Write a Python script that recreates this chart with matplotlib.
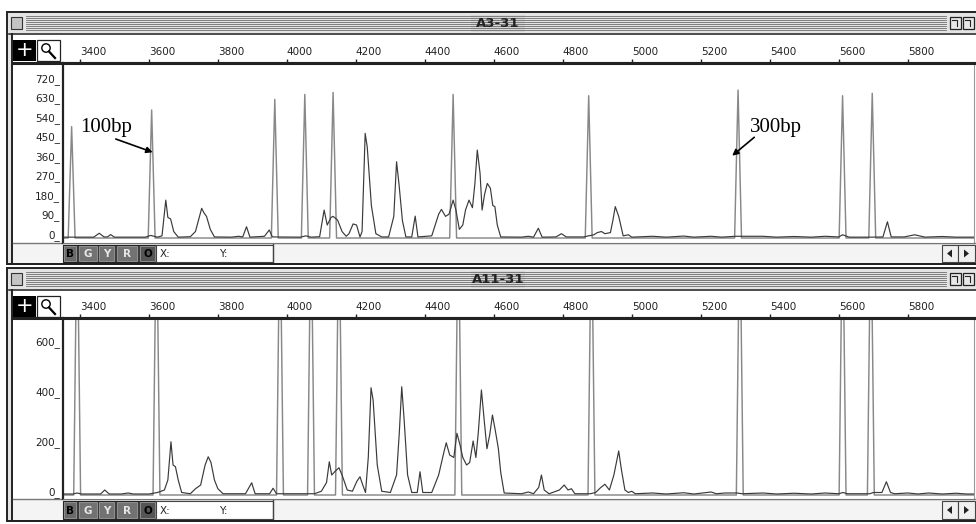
import matplotlib
matplotlib.use("Agg")
import matplotlib.pyplot as plt
from matplotlib.patches import Rectangle, Circle, Polygon

# ---- data ----
x_ticks = [3400, 3600, 3800, 4000, 4200, 4400, 4600, 4800, 5000, 5200, 5400, 5600, 5800]
top_yticks = [0, 90, 180, 270, 360, 450, 540, 630, 720]
bot_yticks = [0, 200, 400, 600]

# size-standard (ladder) peaks: position, height
top_ladder_pos = [3376, 3608, 3965, 4052, 4134, 4482, 4875, 5308, 5611, 5697]
top_ladder_h = [514, 591, 640, 663, 672, 663, 657, 683, 657, 668]
bot_ladder_pos = [3392, 3622, 3980, 4070, 4151, 4497, 4883, 5313, 5611, 5693]
bot_ladder_h = [1150, 1150, 1150, 1150, 1150, 1150, 1150, 1150, 1150, 1150]

# sample trace vertices (A3-31)
top_x = [3351, 3440, 3456, 3470, 3480, 3489, 3500, 3590, 3605, 3625, 3638, 3649, 3655, 3663,
         3672, 3685, 3720, 3735, 3753, 3760, 3767, 3778, 3790, 3840, 3860, 3872, 3883, 3893,
         3935, 3949, 3958, 4040, 4055, 4070, 4095, 4108, 4117, 4128, 4134, 4147, 4160, 4172,
         4180, 4192, 4202, 4212, 4218, 4227, 4233, 4245, 4258, 4275, 4295, 4310, 4318, 4325,
         4335, 4345, 4362, 4372, 4380, 4420, 4440, 4448, 4460, 4470, 4482, 4490, 4500, 4510,
         4518, 4528, 4538, 4545, 4552, 4560, 4566, 4573, 4581, 4590, 4597, 4603, 4610, 4620,
         4680, 4700, 4715, 4729, 4740, 4780, 4796, 4810, 4860, 4890, 4900, 4912, 4922, 4938,
         4945, 4952, 4962, 4975, 4990, 5000, 5060, 5100, 5150, 5180, 5230, 5260, 5300, 5380,
         5420, 5470, 5520, 5560, 5600, 5611, 5630, 5700, 5728, 5741, 5752, 5790, 5820, 5850,
         5900, 5940, 5992]
top_y = [4, 4, 22, 5, 5, 16, 4, 4, 12, 4, 10, 175, 95, 88,
         30, 4, 6, 30, 137, 115, 100, 40, 5, 4, 8, 5, 52, 4,
         8, 37, 5, 4, 10, 4, 6, 129, 60, 95, 100, 83, 30, 8,
         20, 65, 60, 5, 30, 483, 420, 150, 20, 5, 5, 100, 352, 250,
         80, 5, 5, 101, 5, 10, 110, 132, 100, 110, 175, 130, 40, 60,
         130, 175, 140, 250, 406, 300, 129, 200, 252, 230, 150, 145, 60, 5,
         4, 8, 4, 45, 4, 5, 20, 5, 5, 15, 25, 30, 20, 25,
         80, 145, 100, 10, 15, 4, 8, 4, 9, 4, 8, 4, 8, 8,
         4, 7, 4, 8, 5, 15, 4, 4, 5, 75, 5, 5, 15, 4,
         7, 4, 4]

# sample trace vertices (A11-31)
bot_x = [3351, 3380, 3392, 3405, 3460, 3472, 3485, 3520, 3540, 3555, 3600, 3625, 3645, 3655,
         3664, 3670, 3677, 3685, 3695, 3720, 3735, 3750, 3763, 3772, 3780, 3790, 3800, 3815,
         3880, 3898, 3908, 3950, 3960, 3970, 4060, 4080, 4100, 4115, 4123, 4130, 4140, 4151,
         4160, 4175, 4190, 4203, 4212, 4220, 4228, 4236, 4244, 4250, 4262, 4275, 4300, 4318,
         4326, 4333, 4340, 4350, 4362, 4378, 4386, 4394, 4420, 4440, 4455, 4462, 4472, 4484,
         4493, 4502, 4510, 4521, 4530, 4540, 4548, 4555, 4564, 4572, 4580, 4588, 4596, 4604,
         4613, 4620, 4630, 4680, 4700, 4715, 4730, 4738, 4746, 4760, 4790, 4804, 4815, 4825,
         4835, 4880, 4895, 4910, 4922, 4935, 4948, 4962, 4970, 4980, 4990, 5000, 5010, 5060,
         5100, 5150, 5180, 5230, 5245, 5270, 5305, 5320, 5380, 5420, 5470, 5520, 5560, 5600,
         5612, 5625, 5690, 5700, 5725, 5738, 5750, 5762, 5800, 5830, 5860, 5900, 5940, 5970,
         5992]
bot_y = [4, 4, 8, 4, 4, 20, 4, 4, 8, 4, 4, 10, 20, 60,
         213, 120, 113, 60, 10, 5, 25, 40, 120, 153, 130, 60, 25, 5,
         5, 49, 5, 5, 27, 5, 5, 5, 15, 50, 133, 80, 95, 109,
         80, 20, 15, 55, 73, 40, 10, 150, 429, 380, 120, 15, 10, 80,
         250, 433, 300, 80, 10, 10, 93, 10, 10, 80, 170, 209, 160, 150,
         247, 200, 150, 120, 130, 216, 150, 250, 420, 300, 185, 240, 320, 260,
         187, 90, 8, 5, 12, 5, 30, 80, 20, 5, 20, 40, 20, 25,
         5, 5, 10, 30, 43, 20, 80, 176, 100, 20, 10, 15, 5, 8,
         4, 9, 4, 12, 5, 8, 8, 5, 8, 4, 7, 4, 8, 5,
         10, 5, 5, 10, 10, 53, 10, 5, 8, 4, 8, 4, 7, 4,
         4]

W, H = 976, 524
fig = plt.figure(figsize=(9.76, 5.24), dpi=100)
bg = fig.add_axes([0, 0, 1, 1])
bg.set_xlim(0, W)
bg.set_ylim(H, 0)
bg.axis("off")


def ladder_trace(pos, h, x0, x1, hw=10):
    xs, ys = [x0], [0]
    for p, v in zip(pos, h):
        xs += [p - hw, p, p + hw]
        ys += [0, v, 0]
    xs.append(x1)
    ys.append(0)
    return xs, ys


def window(y_top, plot_top, plot_bot, y_bot, title):
    # frame
    bg.add_patch(Rectangle((7, y_top), 980, y_bot - y_top, fc="#e4e4e4", ec="#222", lw=1.4))
    # title bar with stripes
    for yy in range(y_top + 4, y_top + 20, 2):
        bg.plot([26, 946], [yy, yy], color="#6e6e6e", lw=0.6)
    bg.add_patch(Rectangle((471, y_top + 3), 54, 17, fc="#d6d6d6", ec="none"))
    bg.text(498, y_top + 11.5, title, ha="center", va="center", fontsize=9.5,
            fontweight="bold", color="#222")
    bg.add_patch(Rectangle((11, y_top + 5), 11, 12, fc="#c4c4c4", ec="#333", lw=0.8))
    for xx in (950, 963):
        bg.add_patch(Rectangle((xx, y_top + 5), 11, 12, fc="#e8e8e8", ec="#222", lw=0.9))
        bg.plot([xx + 2, xx + 7, xx + 7], [y_top + 8, y_top + 8, y_top + 14], color="#222", lw=0.8)
    bg.plot([9, 976], [y_top + 22, y_top + 22], color="#333", lw=1.2)
    # ruler + left column
    bg.add_patch(Rectangle((12, y_top + 23), 964, plot_bot - y_top - 23, fc="white", ec="none"))
    bg.plot([12, 12], [y_top + 22, y_bot], color="#222", lw=1.4)
    bg.add_patch(Rectangle((13, y_top + 28), 23, 21, fc="black", ec="none"))
    bg.text(24.5, y_top + 38.5, "+", ha="center", va="center", color="white", fontsize=15)
    bg.add_patch(Rectangle((37, y_top + 28), 23, 21, fc="white", ec="#222", lw=0.9))
    bg.add_patch(Circle((46, y_top + 36), 4.2, fc="none", ec="black", lw=1.0))
    bg.plot([49, 55], [y_top + 39.5, y_top + 46], color="black", lw=1.6)
    bg.plot([13, 976], [plot_top, plot_top], color="#222", lw=2.2)
    # toolbar
    tb = plot_bot + 1
    th = y_bot - tb - 1
    bg.add_patch(Rectangle((13, tb), 963, th, fc="#f4f4f4", ec="none"))
    bg.plot([13, 976], [plot_bot, plot_bot], color="#777", lw=1.0)
    bg.add_patch(Rectangle((63, tb + 1), 93, th - 2, fc="#3c3c3c", ec="#222", lw=0.8))
    buttons = [("B", 64, 12, "#6a6a6a", "black"), ("G", 79, 18, "#727272", "#e6e6e6"),
               ("Y", 99, 15, "#727272", "#e6e6e6"), ("R", 117, 20, "#727272", "#e6e6e6"),
               ("O", 140, 15, "#555555", "black")]
    for lab, bx, bw, fc, tc in buttons:
        bg.add_patch(Rectangle((bx, tb + 2), bw, th - 4, fc=fc, ec="#999", lw=0.6))
        bg.text(bx + bw / 2, tb + th / 2 + 0.5, lab, ha="center", va="center", fontsize=7.5,
                fontweight="bold", color=tc)
    bg.add_patch(Rectangle((156, tb + 1), 117, th - 2, fc="white", ec="#444", lw=0.8))
    bg.text(160, tb + th / 2 + 0.5, "X:", ha="left", va="center", fontsize=7.5, color="#222")
    bg.text(219, tb + th / 2 + 0.5, "Y:", ha="left", va="center", fontsize=7.5, color="#222")
    bg.plot([273, 273], [tb, tb + th], color="#444", lw=1.0)
    bg.add_patch(Rectangle((942, tb + 1), 16, th - 2, fc="#f0f0f0", ec="#444", lw=0.8))
    bg.add_patch(Rectangle((958, tb + 1), 17, th - 2, fc="#f0f0f0", ec="#444", lw=0.8))
    cy = tb + th / 2
    bg.add_patch(Polygon([[947, cy], [952, cy - 4], [952, cy + 4]], fc="#222", ec="none"))
    bg.add_patch(Polygon([[969, cy], [964, cy - 4], [964, cy + 4]], fc="#222", ec="none"))
    bg.plot([7, 976], [y_bot, y_bot], color="#222", lw=1.4)


def panel(plot_top, plot_bot, ylim, yticks, lad_pos, lad_h, sx, sy):
    ax = fig.add_axes([63 / W, 1 - plot_bot / H, (974 - 63) / W, (plot_bot - plot_top) / H])
    ax.set_facecolor("white")
    lx, ly = ladder_trace(lad_pos, lad_h, 3351, 5992)
    ax.plot(lx, ly, color="#888888", lw=1.05)
    ax.plot(sx, sy, color="#3a3a3a", lw=0.85)
    ax.set_xlim(3351, 5992)
    ax.set_ylim(*ylim)
    ax.xaxis.tick_top()
    ax.set_xticks(x_ticks)
    ax.set_xticklabels([str(v) for v in x_ticks])
    ax.tick_params(axis="x", direction="out", length=3, width=1, pad=1.5, labelsize=7.5,
                   color="#222", labelcolor="#222")
    for lbl in ax.get_xticklabels():
        lbl.set_horizontalalignment("left")
    ax.set_yticks(yticks)
    ax.set_yticklabels([f"{v}_" for v in yticks])
    ax.tick_params(axis="y", length=0, pad=2, labelsize=7.5, labelcolor="#222")
    for lbl in ax.get_yticklabels():
        lbl.set_verticalalignment("baseline")
    ax.spines["top"].set_linewidth(2.2)
    ax.spines["top"].set_color("#222")
    ax.spines["left"].set_linewidth(1.6)
    ax.spines["left"].set_color("#222")
    ax.spines["right"].set_color("#999")
    ax.spines["bottom"].set_color("#777")
    return ax


window(12, 63, 243, 264, "A3-31")
window(268, 318, 499, 521, "A11-31")

ax1 = panel(63, 243, (-23, 808), top_yticks, top_ladder_pos, top_ladder_h, top_x, top_y)
ax2 = panel(318, 499, (-16, 708), bot_yticks, bot_ladder_pos, bot_ladder_h, bot_x, bot_y)

# size labels
ax1.text(3475, 508, "100bp", ha="center", va="center", fontsize=15, family="Liberation Serif")
ax1.annotate("", xy=(3611, 396), xytext=(3504, 457),
             arrowprops=dict(arrowstyle="-|>", color="black", lw=1.2, mutation_scale=9,
                             shrinkA=0, shrinkB=0))
ax1.text(5418, 508, "300bp", ha="center", va="center", fontsize=15, family="Liberation Serif")
ax1.annotate("", xy=(5291, 380), xytext=(5355, 465),
             arrowprops=dict(arrowstyle="-|>", color="black", lw=1.2, mutation_scale=9,
                             shrinkA=0, shrinkB=0))

fig.savefig("out.png", dpi=100)
